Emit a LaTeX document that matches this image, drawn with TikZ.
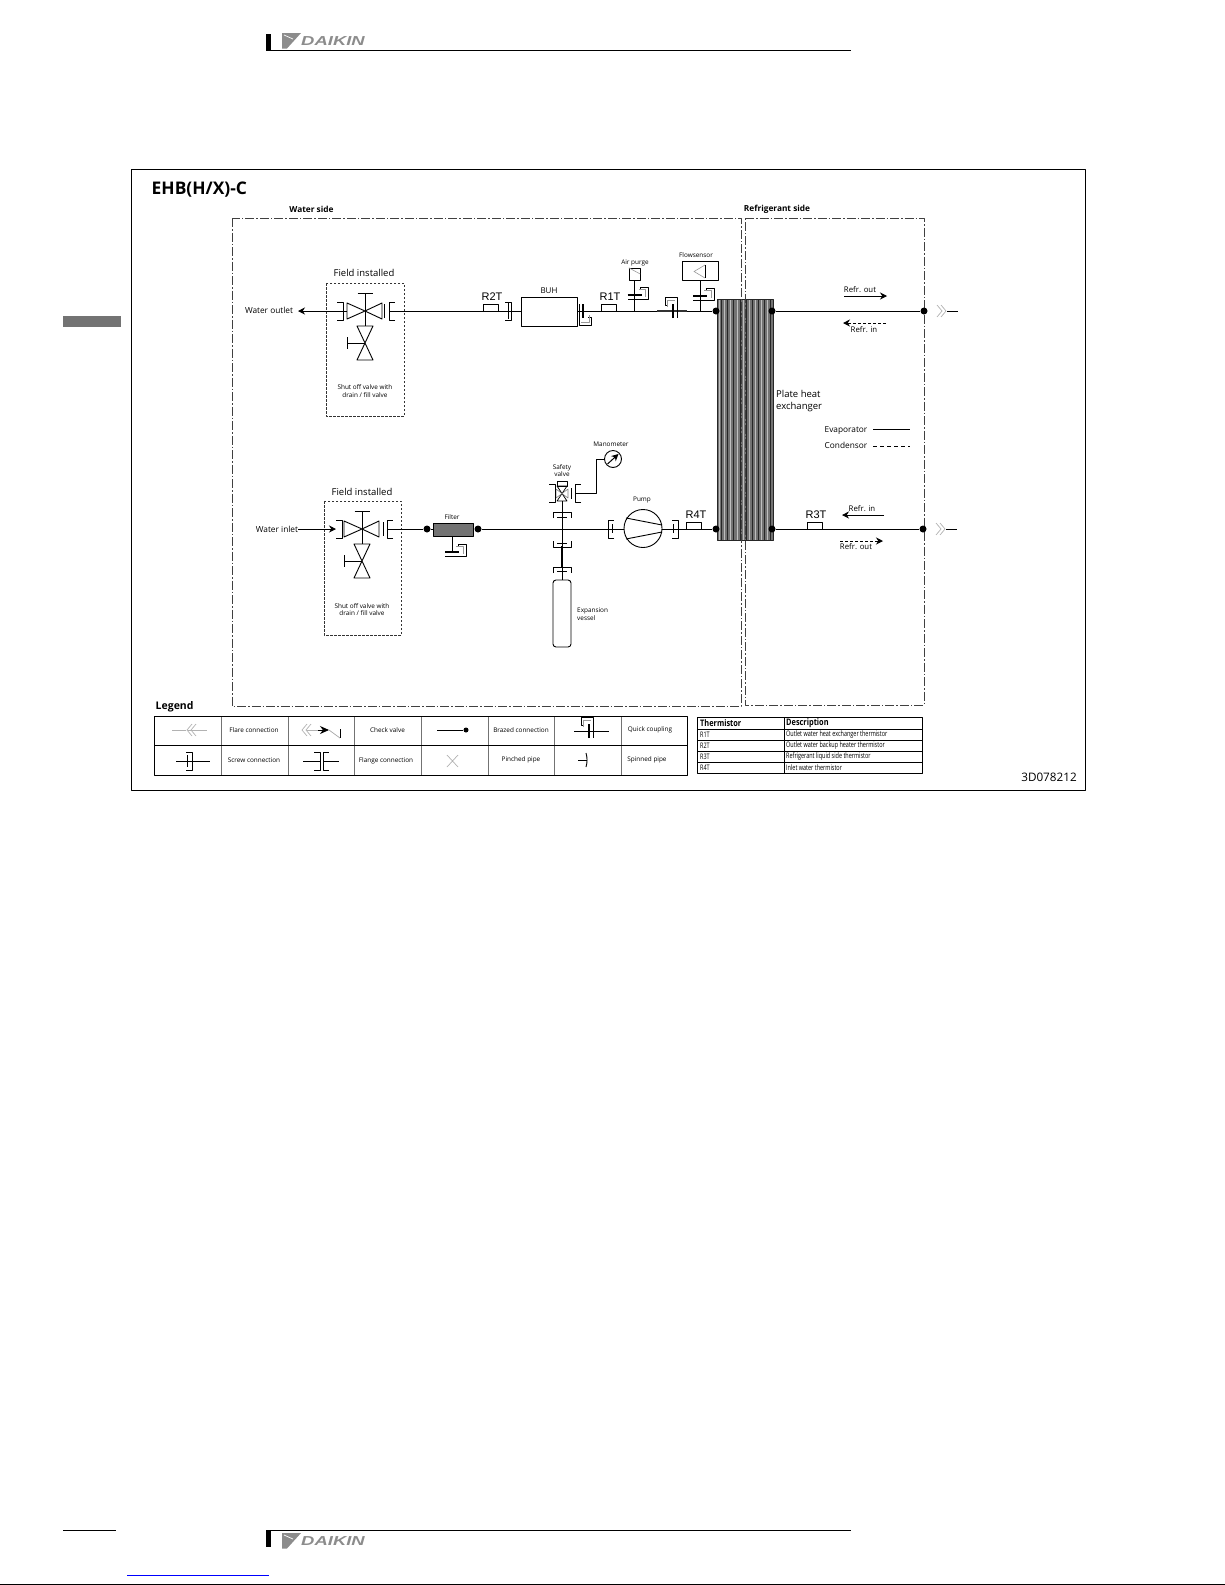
\documentclass[tikz,border=0pt]{standalone}
\usepackage{fontspec}
\usetikzlibrary{arrows.meta}
\setmainfont{Open Sans}
\newfontfamily\tagfont{Liberation Sans}
\newfontfamily\logofont[FakeStretch=1.42]{Liberation Sans}
\newfontfamily\narrowfont[FakeStretch=.72]{Open Sans}
\newfontfamily\headfont[FakeStretch=.82]{Open Sans}
\tikzset{
	pipe/.style={line width=.9pt},
	zone/.style={line width=.9pt,black!75,dash pattern=on 9pt off 2pt on 1.5pt off 2pt},
	fieldbox/.style={line width=.9pt,black!80,dash pattern=on 2.5pt off 1.5pt},
	dot/.style={circle,fill=black,inner sep=0pt,minimum size=7pt},
	sensor/.style={draw,inner sep=0pt,minimum width=15pt,minimum height=7pt},
	txts/.style={inner sep=0pt,font=\fontsize{6.4}{7.4}\selectfont,align=center},
	txtm/.style={inner sep=0pt,font=\fontsize{8.3}{10}\selectfont,align=left},
	txtl/.style={inner sep=0pt,font=\fontsize{9.5}{12}\selectfont,align=left},
	tag/.style={inner sep=0pt,font=\tagfont\fontsize{11}{12}\selectfont},
	tabhead/.style={inner sep=0pt,anchor=west,font=\headfont\bfseries\fontsize{9}{10}\selectfont},
	tabtxt/.style={inner sep=0pt,anchor=west,font=\narrowfont\fontsize{7.6}{9}\selectfont},
	pics/brk/.style={code={\draw[pipe] (-6,-9)--(0,-9)--(0,9)--(-6,9);}},
	pics/qcp/.style={code={
		\draw[line width=1.1pt] (-7,0)--(7,0);
		\draw[pipe] (6,-5)--(6,-8)--(14,-8)--(14,4)--(-7,4);
		\draw[black!40,line width=.6pt] (4,-6)--(11,-6)--(11,2);}},
	pics/fieldvalve/.style={code={
		\draw[pipe] (-18,-8)--(0,0)--(-18,8)--cycle (17,-8)--(0,0)--(17,8)--cycle;
		\draw[pipe] (-7.5,-18)--(7.5,-18) (0,-18)--(0,15);
		\draw[pipe] (-8,15)--(8,15)--(-8,49)--(8,49)--cycle;
		\draw[pipe] (0,32)--(-18,32) (-18,26)--(-18,38);}},
	pics/flare/.style={code={
		\draw[black!30,line width=.7pt] (0,-6)--(5,0)--(0,6) (4,-6)--(9,0)--(4,6);}},
	pics/logo/.style={code={
		\fill[black!45] (282,33)--(301,33)--(287,48.5)--(282,48.5)--cycle;
		\draw[white,line width=.7pt] (284,35)--(293,39);
		\node[black!45,inner sep=0pt,font=\logofont\bfseries\itshape\fontsize{13}{14}\selectfont] (logotxt) at (333,41.5) {DAIKIN};}},
}
\begin{document}
\begin{tikzpicture}[x=1pt,y=-1pt,line join=round,>={Stealth[length=7pt,width=7pt]}]
	\useasboundingbox (0,0) rectangle (1225,1585);
	% page furniture
	\fill (266,34) rectangle (271,51);
	\draw[line width=1pt] (271,50.5)--(851,50.5);
	\pic (head) at (0,0) {logo};
	\fill[black!55] (63,316) rectangle (121,327);
	\fill (266,1530) rectangle (271,1547);
	\draw[line width=1pt] (63,1530)--(116,1530) (271,1530)--(851,1530);
	\pic (foot) at (0,1500) {logo};
	\draw[blue,line width=.8pt] (127,1575)--(269,1575);
	\draw[line width=1pt] (0,1584.5)--(1225,1584.5);
	% frame and zones
	\draw[line width=1pt] (131,169) rectangle (1085,790);
	\node[inner sep=0pt,anchor=west,font=\bfseries\fontsize{17.4}{20}\selectfont] (title) at (151.5,190) {EHB(H/X)-C};
	\node[txtm,font=\bfseries\fontsize{8.3}{10}\selectfont] (watertxt) at (311.5,209) {Water side};
	\node[txtm,font=\bfseries\fontsize{8.3}{10}\selectfont] (refrtxt) at (777,209) {Refrigerant side};
	% plate heat exchanger
	\fill[black!55] (717,299) rectangle (773,540);
	\foreach \x in {719,724.5,730,737,743,749,755,761,767} \draw[black!25,line width=1pt] (\x,299)--(\x,540);
	\foreach \x in {721.5,727,733,740,746,752,758,764,770} \draw[black!85,line width=.8pt] (\x,299)--(\x,540);
	\draw[black!85,line width=.9pt] (717,299) rectangle (773,540);
	\draw[zone] (232,218) rectangle (741,706);
	\draw[zone] (745,218)--(924,218)--(924,705)--(745,705)--cycle;
	\node[txtl,anchor=west] (platetxt) at (776,401.5) {Plate heat\\exchanger};
	\node[txtm] (evatxt) at (846,430.5) {Evaporator};
	\node[txtm] (contxt) at (846,445) {Condensor};
	\draw[line width=1pt] (873,429)--(910,429);
	\draw[line width=.9pt,dash pattern=on 4pt off 3pt] (873,446)--(910,446);
	% upper line
	\draw[fieldbox] (326,283) rectangle (404,416);
	\node[txtl] (fieldA) at (364,273) {Field installed};
	\node[txts] (shutA) at (365,391) {Shut off valve with\\drain / fill valve};
	\node[txtm] (outtxt) at (269,310.5) {Water outlet};
	\coordinate (outtip) at (298,311);
	\coordinate (vA) at (365,311);
	\pic at (vA) {fieldvalve};
	\pic at (343,311) {brk};
	\draw[pipe] (384,304)--(384,318);
	\pic[rotate=180] at (389,311) {brk};
	\draw[pipe,->] (347,311)--(outtip);
	\node[draw,inner sep=0pt,minimum width=56pt,minimum height=29pt] (buh) at (549,311.5) {};
	\node[txts,font=\fontsize{8}{9}\selectfont] (buhtxt) at (549,291) {BUH};
	\node[sensor] (r2t) at (490.5,307.5) {};
	\node[tag] (r2ttxt) at (492,297) {R2T};
	\node[sensor] (r1t) at (609,307.5) {};
	\node[tag] (r1ttxt) at (610,297) {R1T};
	\node[dot] (hxA) at (716,311) {};
	\node[dot] (hxB) at (772,311) {};
	\node[dot] (refA) at (924,311) {};
	\coordinate (endA) at (958,311);
	\draw[pipe] (389,311)--(buh.west|-vA);
	\pic at (511,311) {brk};
	\draw[pipe] (508,303)--(508,319);
	\draw[pipe] (buh.east|-vA)--(hxA);
	\draw[line width=1.4pt,black!80] (657,311)--(687,311);
	\pic[rotate=-90] at (583,311) {qcp};
	\pic[rotate=90] at (673,311) {qcp};
	\draw[pipe] (hxB)--(refA);
	\pic at (937,311) {flare};
	\draw[pipe] (947,311)--(endA);
	% air purge and flow sensor
	\node[draw,inner sep=0pt,minimum width=11pt,minimum height=12pt] (air) at (634.5,274) {};
	\node[txts] (airtxt) at (635,263) {Air purge};
	\coordinate (airT) at (634.5,311);
	\draw[pipe] (air.south)--(airT);
	\draw[black!40,line width=.6pt] (air.north west)--(air.east);
	\pic at (634.5,295) {qcp};
	\node[draw,fill=white,inner sep=0pt,minimum width=36pt,minimum height=19pt] (flow) at (700,270.5) {};
	\draw[black!40,line width=.6pt] (705,265)--(694,271.5)--(705,278);
	\draw[line width=.9pt] (705,265)--(705,278);
	\node[txts] (flowtxt) at (696,255) {Flowsensor};
	\coordinate (flowT) at (700,311);
	\draw[pipe] (flow.south)--(flowT);
	\pic at (700,296) {qcp};
	% refrigerant arrows
	\node[txtm,font=\fontsize{7.8}{9}\selectfont] (outA) at (860,290) {Refr. out};
	\node[txtm,font=\fontsize{7.8}{9}\selectfont] (inA) at (864,330) {Refr. in};
	\draw[pipe,->] (844,296)--(887,296);
	\draw[pipe,dash pattern=on 3pt off 2pt,->] (886,323)--(843,323);
	% lower line
	\draw[fieldbox] (324,501) rectangle (401,635);
	\node[txtl] (fieldB) at (362,492) {Field installed};
	\node[txts] (shutB) at (362,609.5) {Shut off valve with\\drain / fill valve};
	\node[txtm] (intxt) at (277,529) {Water inlet};
	\coordinate (intip) at (336,529);
	\coordinate (vB) at (362,529);
	\coordinate (instart) at (298,529);
	\pic at (vB) {fieldvalve};
	\pic at (342,529) {brk};
	\draw[pipe] (383,522)--(383,536);
	\pic[rotate=180] at (387,529) {brk};
	\draw[pipe,->] (instart)--(intip);
	\node[dot] (flA) at (427,529) {};
	\node[dot] (flB) at (478,529) {};
	\node[draw,fill=black!55,inner sep=0pt,minimum width=40pt,minimum height=13pt] (filter) at (453,529.5) {};
	\node[txts] (filtxt) at (452,517) {Filter};
	\draw[pipe] (387,529)--(flA)--(filter.west|-flA) (filter.east|-flB)--(flB);
	\coordinate (filT) at (452,552);
	\draw[pipe] (filter.south-|filT)--(filT);
	\pic at (filT) {qcp};
	% pump
	\node[draw,circle,inner sep=0pt,line width=.9pt,minimum size=38pt] (pump) at (643,528.5) {};
	\draw[pipe] (626,518)--(662,525) (626,539)--(662,532);
	\node[txts] (pumptxt) at (642,500) {Pump};
	\node[dot] (hxC) at (716,529) {};
	\node[dot] (hxD) at (772,529) {};
	\node[dot] (refB) at (923,529) {};
	\coordinate (endB) at (957,529);
	\draw[pipe] (flB)--(pump.west|-flB) (pump.east|-flB)--(hxC) (hxD)--(refB);
	\pic[rotate=180] at (608,529) {brk};
	\draw[pipe] (612.5,524)--(612.5,533);
	\draw[pipe] (673,524)--(673,533);
	\pic at (678,529) {brk};
	\pic at (936,529) {flare};
	\draw[pipe] (946,529)--(endB);
	\node[sensor] (r4t) at (694,525.5) {};
	\node[tag] (r4ttxt) at (696,515) {R4T};
	\node[sensor] (r3t) at (814.5,525.5) {};
	\node[tag] (r3ttxt) at (816,515) {R3T};
	\node[txtm,font=\fontsize{7.8}{9}\selectfont] (inB) at (862,509) {Refr. in};
	\node[txtm,font=\fontsize{7.8}{9}\selectfont] (outB) at (856,547) {Refr. out};
	\draw[pipe,->] (884,515)--(842,515);
	\draw[pipe,dash pattern=on 3pt off 2pt,->] (840,541)--(883,541);
	% safety valve, manometer, vessel
	\node[draw,inner sep=0pt,minimum width=10pt,minimum height=5pt] (cap) at (562,483.5) {};
	\coordinate (sfv) at (562,493);
	\draw[line width=.7pt] (557,486)--(567,486)--(557,501)--(567,501)--cycle;
	\draw[black!50,line width=.6pt] (556,489)--(556,498)--(562,493.5)--(568,498)--(568,489)--(562,493.5)--cycle;
	\pic at (555,493.5) {brk};
	\draw[pipe] (571,488)--(571,499);
	\pic[rotate=180] at (575,493.5) {brk};
	\node[txts] (sfvtxt) at (562,470.5) {Safety\\valve};
	\node[draw,circle,inner sep=0pt,line width=.9pt,minimum size=17pt] (mano) at (613,459) {};
	\node[txts] (manotxt) at (611,444) {Manometer};
	\draw[pipe] (575,493)-|(596,459)--(mano.west);
	\draw[line width=1pt,->] (607.5,464)--(618.5,454);
	\node[draw,line width=.9pt,rounded corners=3pt,inner sep=0pt,minimum width=18pt,minimum height=67pt] (vessel) at (562,613.5) {};
	\node[txts,anchor=west,align=left] (vestxt) at (577,614) {Expansion\\vessel};
	\coordinate (jct) at (562,529);
	\draw[pipe] (sfv|-0,501)--(jct);
	\draw[pipe] (jct)--(vessel.north);
	\draw[line width=2pt] (562,546)--(562,567);
	\pic[rotate=90] at (562,512) {brk};
	\draw[pipe] (557,517)--(567,517);
	\pic[rotate=-90] at (562,547) {brk};
	\draw[pipe] (557,543)--(567,543);
	\pic[rotate=90] at (562,567) {brk};
	\draw[pipe] (557,571)--(567,571);
	% legend
	\node[inner sep=0pt,anchor=west,font=\bfseries\fontsize{10.5}{12}\selectfont] (legtxt) at (155.5,706.5) {Legend};
	\foreach \x in {221,288,354.5,421,488,554.5,621} \draw[black!55,line width=1pt] (\x,716)--(\x,775);
	\draw[line width=1pt] (154.5,716) rectangle (687,775) (154.5,745.5)--(687,745.5);
	\foreach \n/\x/\y/\t in {a/254/730/Flare connection,b/387.5/730/Check valve,c/521/730/Brazed connection,d/650/730/Quick coupling,
		e/254/760.5/Screw connection,f/386/760.5/Flange connection,g/521/759.5/Pinched pipe,h/647/759.5/Spinned pipe}
		\node[txts] (leg\n) at (\x,\y) {\t};
	% flare
	\coordinate (la) at (172,730); \coordinate (lb) at (207,730);
	\draw[black!30,line width=.8pt] (la)--(186,730) (188,730)--(lb);
	\pic[rotate=180] at (196,730) {flare};
	% check valve
	\pic[rotate=180] at (311,730) {flare};
	\coordinate (lc) at (307,730); \coordinate (ld) at (329,730);
	\draw[black!30,line width=.8pt] (lc)--(318,730);
	\draw[pipe,->,>={Stealth[length=9pt,width=8pt]}] (318,730)--(ld);
	\draw[black!35,line width=.7pt] (329,730)--(340,738);
	\draw[line width=.8pt] (340,729)--(340,738);
	% brazed
	\coordinate (le) at (437,730);
	\node[dot,minimum size=5pt] (lf) at (466,730) {};
	\draw[pipe] (le)--(lf);
	% quick coupling
	\coordinate (lg) at (574,731); \coordinate (lh) at (609,731);
	\draw[pipe] (lg)--(lh);
	\pic[rotate=90] at (589,731) {qcp};
	% screw
	\coordinate (li) at (176,761); \coordinate (lj) at (210,761);
	\draw[pipe] (li)--(lj);
	\pic at (192,761) {brk};
	\draw[pipe] (187,755)--(187,767);
	% flange
	\coordinate (lk) at (303,761); \coordinate (ll) at (339,761);
	\draw[pipe] (lk)--(320,761) (323,761)--(ll);
	\pic at (320,761) {brk};
	\pic[rotate=180] at (323,761) {brk};
	% pinched
	\draw[black!30,line width=.7pt] (447,755)--(458,767) (458,755)--(447,767);
	% spinned
	\coordinate (lm) at (578,760); \coordinate (ln) at (587,760);
	\draw[pipe] (lm)--(ln);
	\draw[pipe] (586,753) to[bend left=15] (586,767);
	% thermistor table
	\draw[line width=1pt] (697,717) rectangle (922,773) (784,717)--(784,773);
	\foreach \y in {729,740,751,762} \draw[line width=.9pt] (697,\y)--(922,\y);
	\node[tabhead] (thA) at (700,723.5) {Thermistor};
	\node[tabhead] (thB) at (786,723.5) {Description};
	\foreach \n/\y/\r/\t in {a/734.5/R1T/Outlet water heat exchanger thermistor,b/745.5/R2T/Outlet water backup heater thermistor,
		c/756.5/R3T/Refrigerant liquid side thermistor,d/767.5/R4T/Inlet water thermistor}{
		\node[tabtxt] (rw\n) at (700,\y) {\r};
		\node[tabtxt] (ds\n) at (786,\y) {\t};
	}
	\node[inner sep=0pt,font=\fontsize{11.7}{14}\selectfont] (docno) at (1049,777) {3D078212};
\end{tikzpicture}
\end{document}
